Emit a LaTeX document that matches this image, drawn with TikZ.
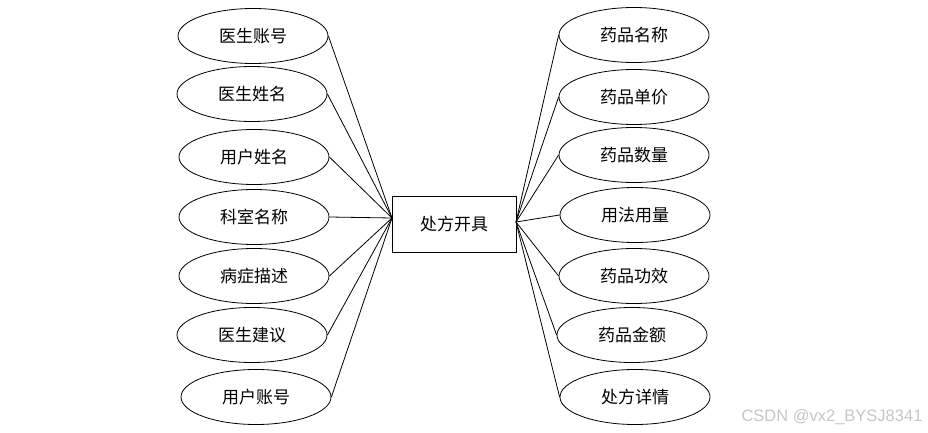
\documentclass[tikz,border=0pt]{standalone}
\usepackage{fontspec}
\newfontfamily\cjk{Noto Sans CJK SC}
\newfontfamily\wmfont{Liberation Sans}
\usetikzlibrary{shapes.geometric}
\begin{document}
\begin{tikzpicture}[x=1pt,y=-1pt,line width=0.8pt,
    attr/.style={draw,ellipse,inner sep=0,minimum width=150pt,minimum height=55pt,font=\cjk\fontsize{17}{20}\selectfont},
    ent/.style={draw,rectangle,inner sep=0,minimum width=124pt,minimum height=56pt,font=\cjk\fontsize{17}{20}\selectfont}]
    \useasboundingbox (0,0) rectangle (928,433);
    \path (454,224) node [ent](cf){处方开具};
    \coordinate (lj) at (392,218);
    \coordinate (rj) at (516,222);
    % left attributes
    \path (253,36) node [attr](zh){医生账号};
    \path (252,94) node [attr](xm){医生姓名};
    \path (254,157) node [attr](yh){用户姓名};
    \path (254,217) node [attr](ks){科室名称};
    \path (254,276) node [attr](bz){病症描述};
    \path (252,335) node [attr](jy){医生建议};
    \path (256,397) node [attr](yz){用户账号};
    % right attributes
    \path (634,35) node [attr](mc){药品名称};
    \path (634,97) node [attr](dj){药品单价};
    \path (634,155) node [attr](sl){药品数量};
    \path (635,215) node [attr](yf){用法用量};
    \path (634,276) node [attr](gx){药品功效};
    \path (632,335) node [attr](je){药品金额};
    \path (635,397) node [attr](xq){处方详情};
    \foreach \a in {zh,xm,yh,ks,bz,jy,yz}
        \draw (\a.east) -- (lj);
    \foreach \a in {mc,dj,sl,yf,gx,je,xq}
        \draw (rj) -- (\a.west);
    \path (832,417) node [text=gray!45,font=\wmfont\fontsize{16.5}{18}\selectfont](wm){CSDN @vx2\_BYSJ8341};
  \end{tikzpicture}
\end{document}
